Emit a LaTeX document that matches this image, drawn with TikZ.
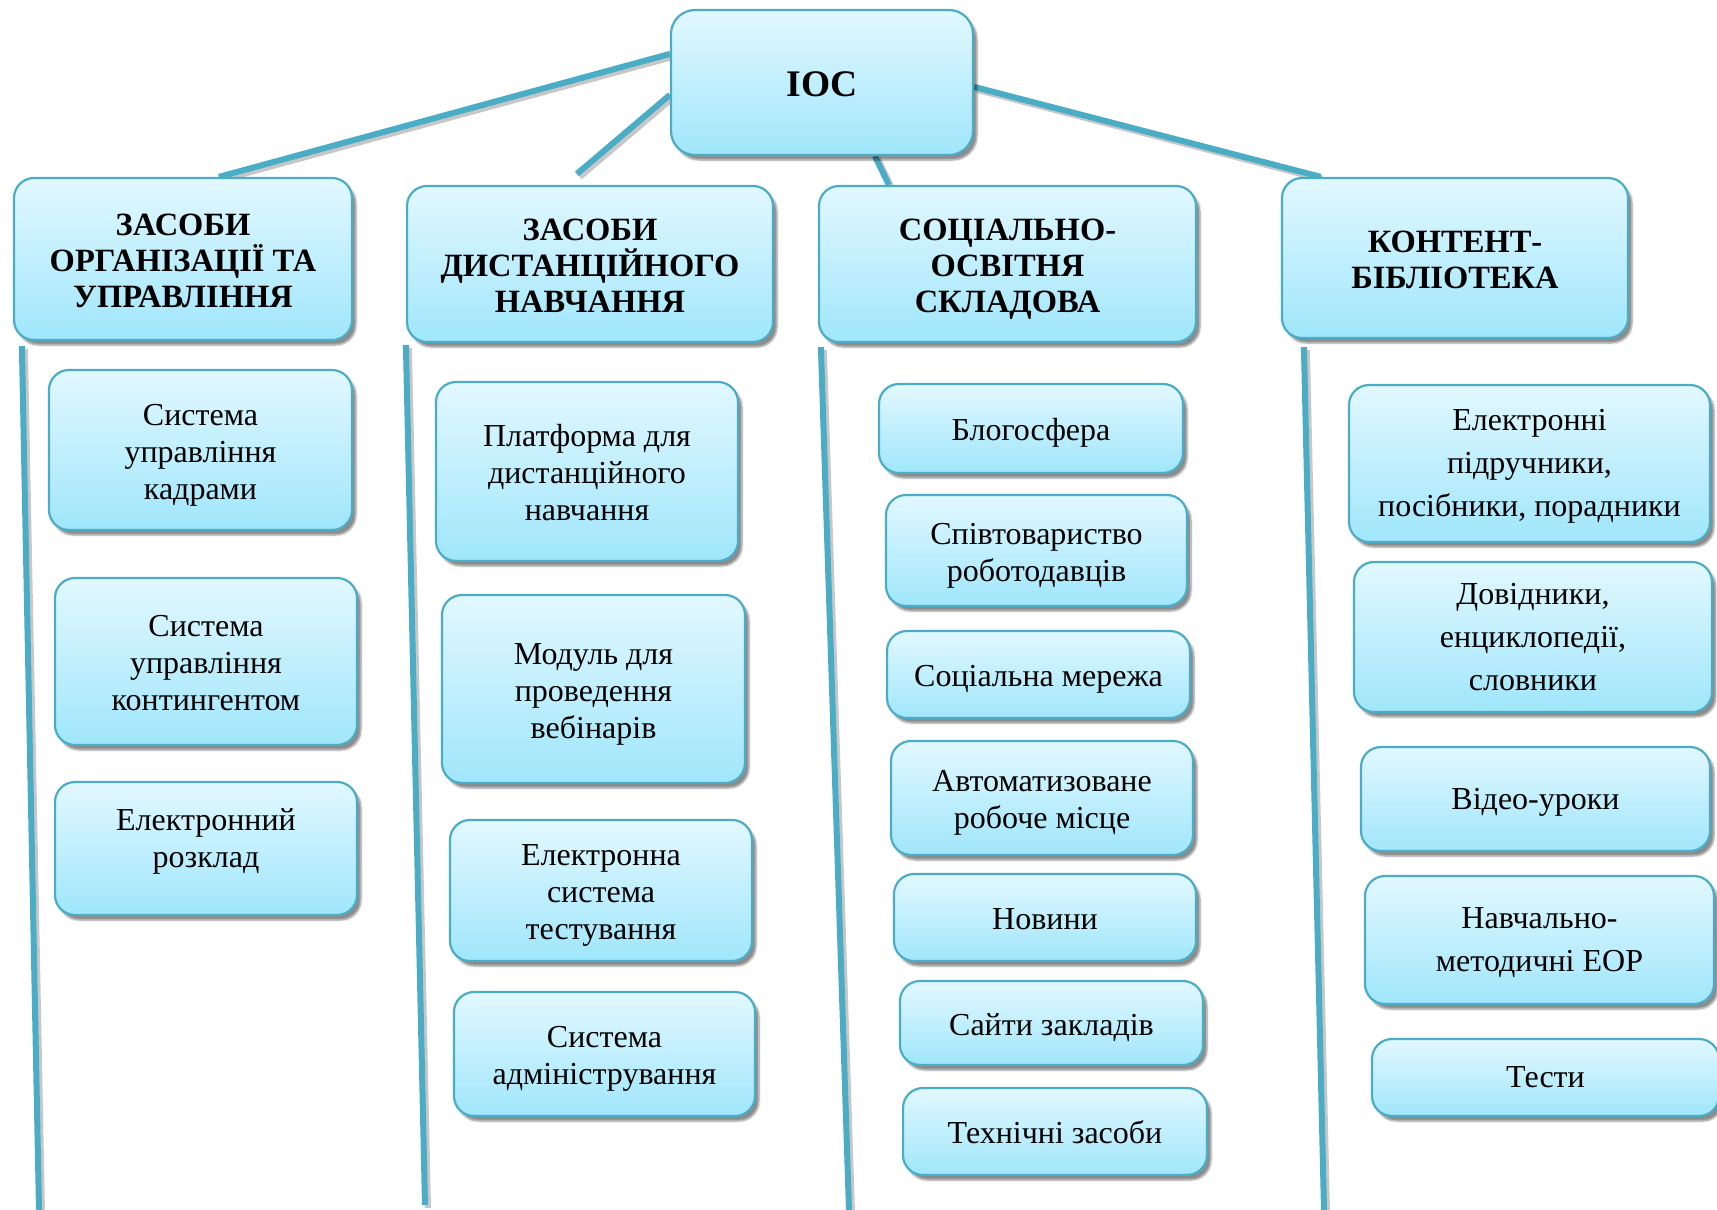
\documentclass[tikz,border=0pt]{standalone}
\usepackage{fontspec}
\setmainfont{Liberation Serif}
\usetikzlibrary{shadows.blur}
\definecolor{edgec}{RGB}{75,172,198}
\definecolor{topc}{RGB}{226,248,255}
\definecolor{botc}{RGB}{160,230,251}
\pgfdeclarelayer{bg}
\pgfsetlayers{bg,main}
\tikzset{sh/.store in=\stH, sd/.store in=\stD, sh=32, sd=8}
\newcommand\place[7][box]{\node[#1, minimum width={#5-#3}, minimum height={#6-#4}] (#2) at ({(#3+#5)/2},{(#4+#6)/2}) {\rule{0pt}{\stH pt}#7\rule[-\stD pt]{0pt}{\stD pt}};}
\begin{document}
\begin{tikzpicture}[x=1pt,y=-1pt,
  box/.style={draw=edgec, line width=2.2pt, rounded corners=20pt, top color=topc, bottom color=botc,
    inner sep=0pt, align=center, font=\fontsize{32}{37}\selectfont, sh=32, sd=8,
    blur shadow={shadow xshift=4pt, shadow yshift=-5pt, shadow blur steps=5, shadow opacity=45}},
  wide/.style={box, font=\fontsize{32}{43}\selectfont, sh=30, sd=10},
  head/.style={box, font=\fontsize{32.5}{36}\selectfont\bfseries},
  top/.style={box, rounded corners=24pt, font=\fontsize{37.5}{45}\selectfont\bfseries, sh=36, sd=8},
  conn/.style={draw=edgec, line width=6pt,
    preaction={draw=black, opacity=0.22, line width=6pt, transform canvas={xshift=3pt,yshift=-3pt}}}
]
\useasboundingbox (0,0) rectangle (1717,1210);

\place[top]{ioc}{671}{10}{973}{155}{IOC}

\place[head]{h1}{14}{178}{352}{340}{ЗАСОБИ\\ОРГАНІЗАЦІЇ ТА\\УПРАВЛІННЯ}
\place[head]{h2}{407}{186}{773}{342}{ЗАСОБИ\\ДИСТАНЦІЙНОГО\\НАВЧАННЯ}
\place[head]{h3}{819}{186}{1196}{342}{СОЦІАЛЬНО-\\ОСВІТНЯ\\СКЛАДОВА}
\place[head]{h4}{1282}{178}{1628}{338}{КОНТЕНТ-\\БІБЛІОТЕКА}

% column 1
\place{a1}{49}{370}{352}{530}{Система\\управління\\кадрами}
\place{a2}{55}{578}{357}{745}{Система\\управління\\контингентом}
\place[box, sh=32, sd=32]{a3}{55}{782}{357}{915}{Електронний\\розклад}

% column 2
\place{b1}{436}{382}{738}{561}{Платформа для\\дистанційного\\навчання}
\place{b2}{442}{595}{745}{783}{Модуль для\\проведення\\вебінарів}
\place{b3}{450}{820}{752}{961}{Електронна\\система\\тестування}
\place{b4}{454}{992}{755}{1116}{Система\\адміністрування}

% column 3
\place{c1}{879}{384}{1183}{473}{Блогосфера}
\place{c2}{886}{495}{1187}{606}{Співтовариство\\роботодавців}
\place{c3}{887}{631}{1190}{718}{Соціальна мережа}
\place{c4}{891}{741}{1193}{855}{Автоматизоване\\робоче місце}
\place{c5}{894}{874}{1196}{961}{Новини}
\place{c6}{900}{981}{1203}{1065}{Сайти закладів}
\place{c7}{903}{1088}{1207}{1175}{Технічні засоби}

% column 4
\place[wide]{d1}{1349}{385}{1710}{542}{Електронні\\підручники,\\посібники, порадники}
\place[wide]{d2}{1354}{562}{1712}{712}{Довідники,\\енциклопедії,\\словники}
\place[wide]{d3}{1361}{747}{1710}{851}{Відео-уроки}
\place[wide]{d4}{1365}{876}{1714}{1004}{Навчально-\\методичні ЕОР}
\place[wide]{d5}{1372}{1039}{1719}{1116}{Тести}

\coordinate (e1) at (39,1210);
\coordinate (e2) at (425,1205);
\coordinate (e3) at (849,1210);
\coordinate (e4) at (1324,1210);

\begin{pgfonlayer}{bg}
\draw[conn] ([yshift=-45pt]ioc.north west) -- ([xshift=206pt]h1.north west);
\draw[conn] ([yshift=-86pt]ioc.north west) -- ([xshift=171pt,yshift=11pt]h2.north west);
\draw[conn] ([xshift=205pt]ioc.south west) -- ([xshift=71pt]h3.north west);
\draw[conn] ([yshift=-78pt]ioc.north east) -- ([xshift=40pt]h4.north west);
\draw[conn] ([xshift=9pt,yshift=-5pt]h1.south west) -- (e1);
\draw[conn] ([xshift=0pt,yshift=-2pt]h2.south west) -- (e2);
\draw[conn] ([xshift=3pt,yshift=-4pt]h3.south west) -- (e3);
\draw[conn] ([xshift=23pt,yshift=-8pt]h4.south west) -- (e4);
\end{pgfonlayer}
\end{tikzpicture}
\end{document}
